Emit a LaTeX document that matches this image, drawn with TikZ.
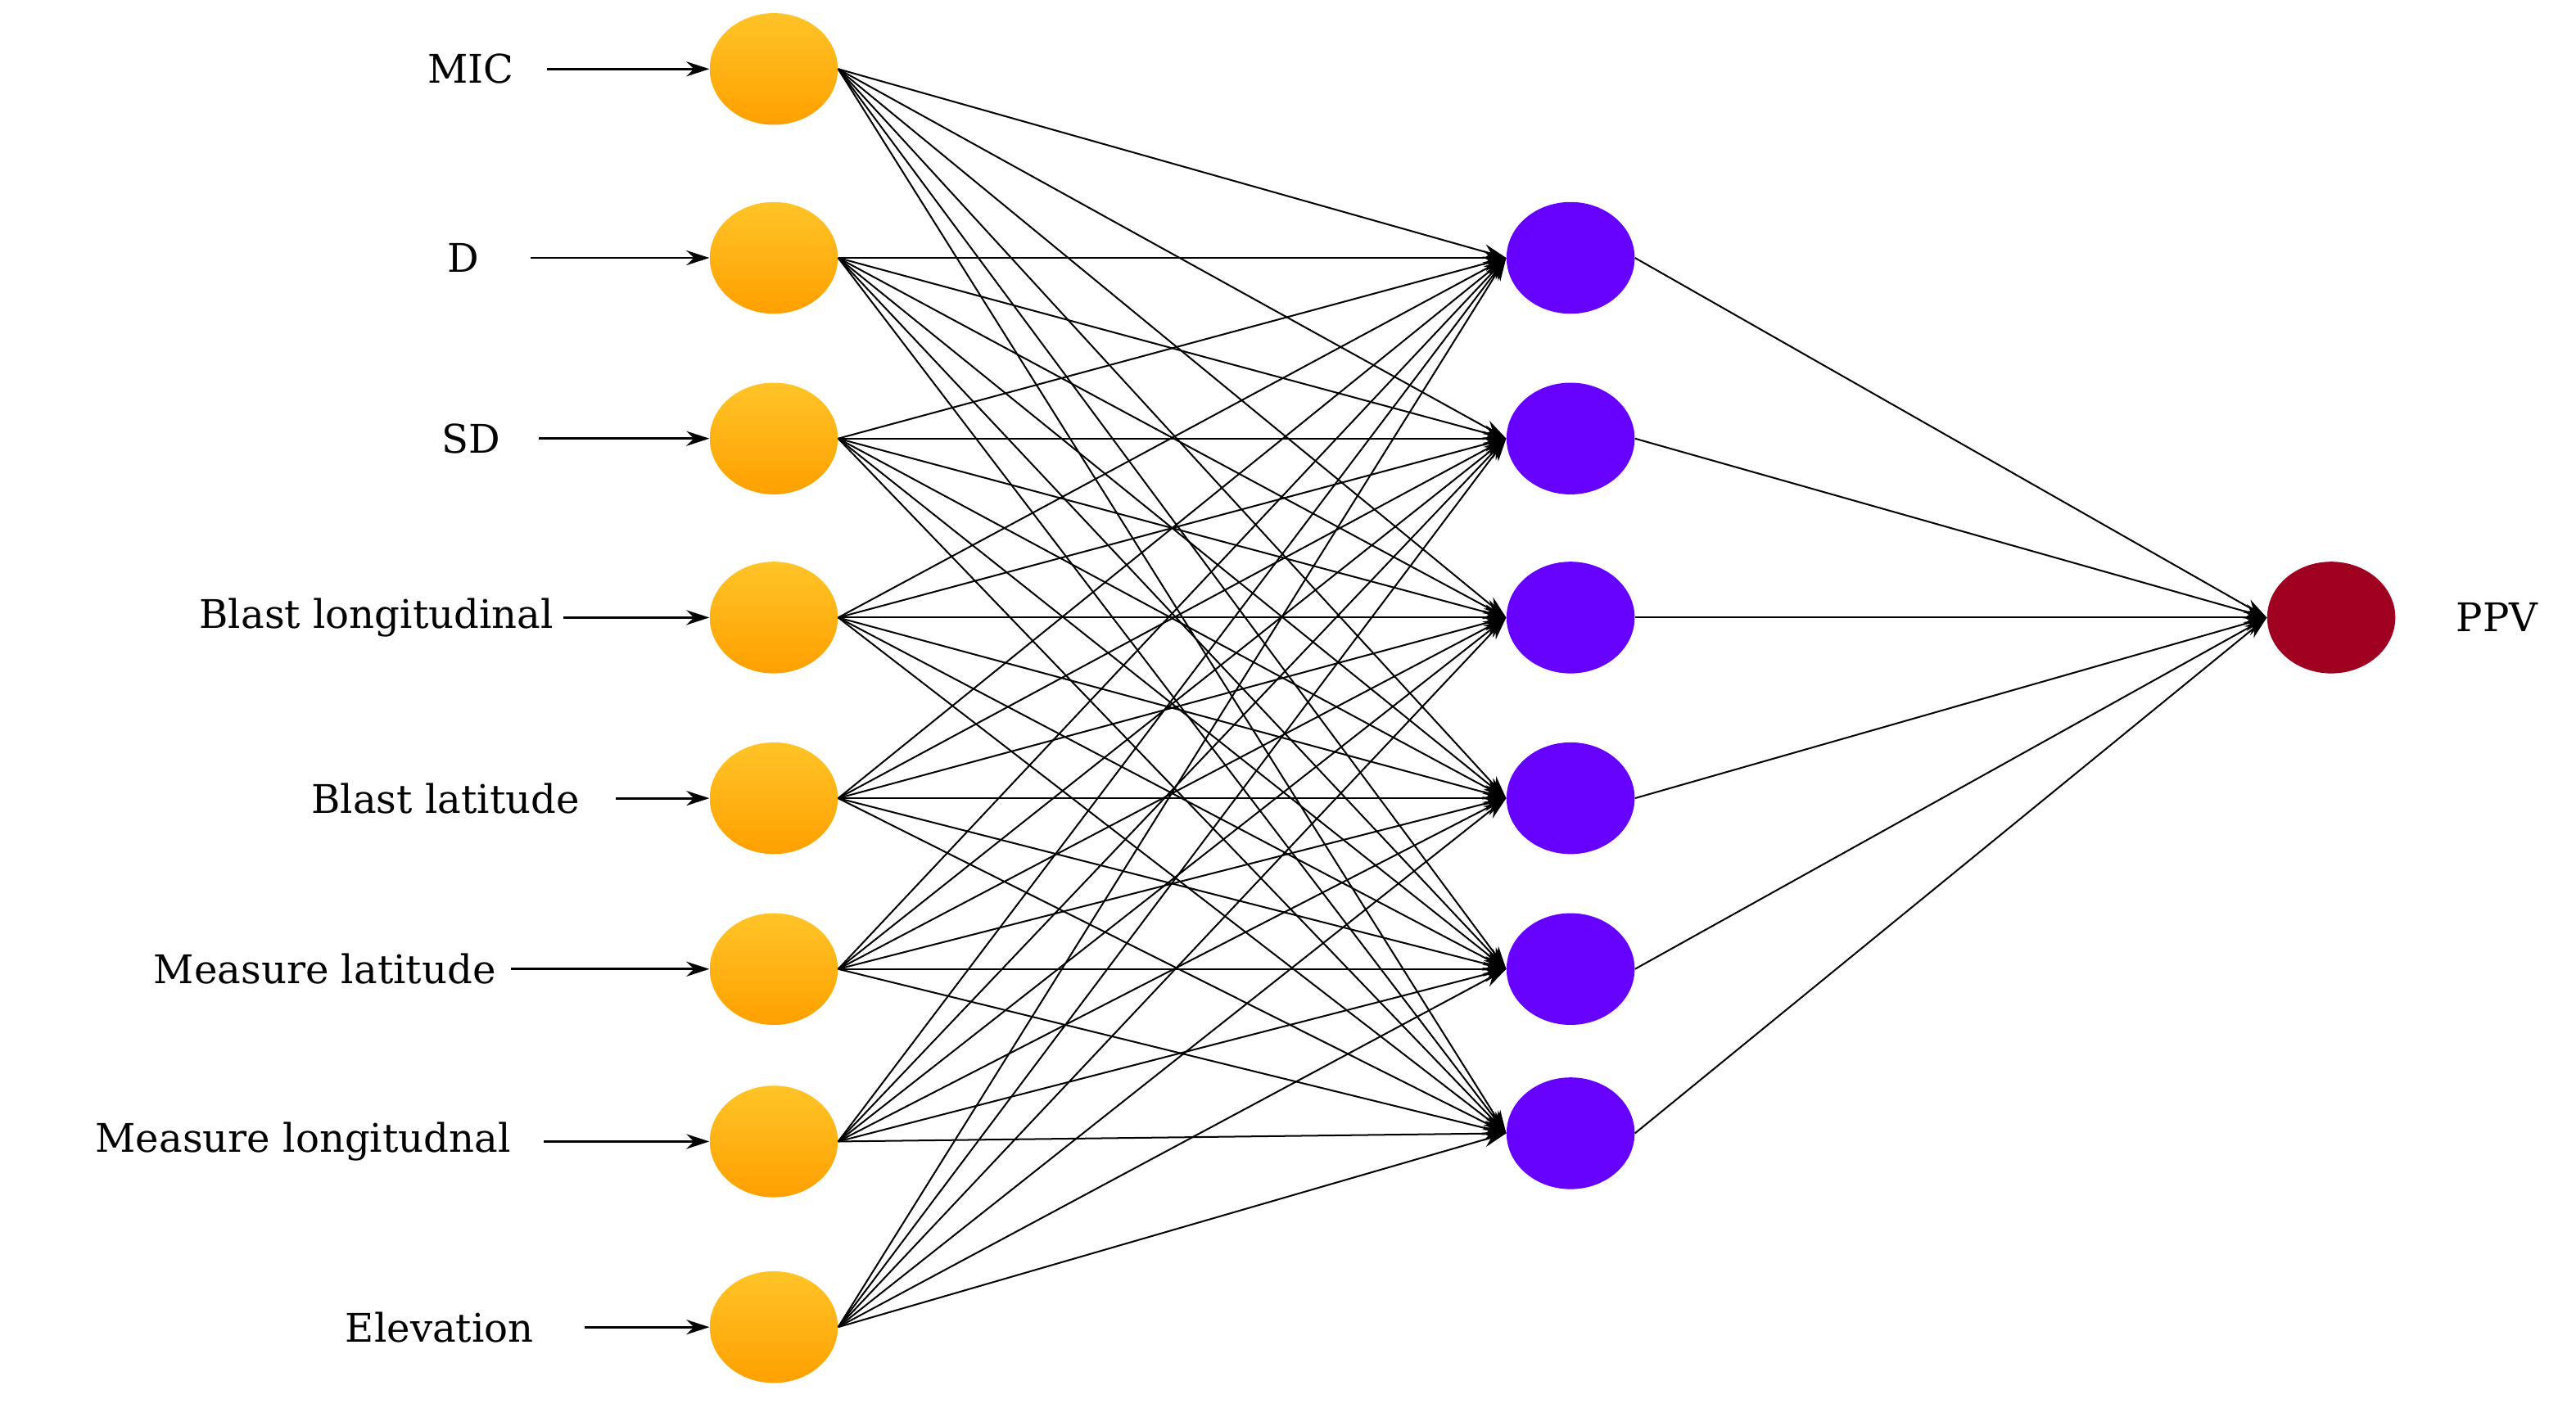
\documentclass[tikz,border=0pt]{standalone}
\usepackage{fontspec}
\setmainfont{DejaVu Serif}
\usetikzlibrary{arrows.meta,shapes.geometric}
\definecolor{hidc}{RGB}{102,0,255}
\definecolor{outc}{RGB}{160,0,32}
\definecolor{inpt}{RGB}{255,196,40}
\definecolor{inpb}{RGB}{255,160,0}
\begin{document}
\begin{tikzpicture}[x=1pt,y=-1pt,
  inp/.style={ellipse,minimum width=78pt,minimum height=68pt,inner sep=0pt,draw=none,top color=inpt,bottom color=inpb},
  hid/.style={ellipse,minimum width=78pt,minimum height=68pt,inner sep=0pt,fill=hidc},
  outn/.style={ellipse,minimum width=78pt,minimum height=68pt,inner sep=0pt,fill=outc},
  lab/.style={font=\fontsize{24}{28}\selectfont,anchor=east,inner sep=0pt},
  con/.style={-{Stealth[length=14pt,width=9pt]},line width=1pt,black}]
\useasboundingbox (0,0) rectangle (1568,857);
\foreach \n/\y/\t/\e/\a in {1/42/MIC/313/333, 2/157/D/292/323, 3/267/SD/305/328, 4/376/Blast longitudinal/337/343, 5/486/Blast latitude/353/375, 6/590/Measure latitude/302/311, 7/695/Measure longitudnal/311/331, 8/808/Elevation/325/356}{
  \node[inp] (i\n) at (471,\y) {};
  \node[lab] (l\n) at (\e,\y) {\t};
  \coordinate (s\n) at (\a,\y);
  \draw[con,line width=1.4pt] (s\n) -- (i\n.west);
}
\foreach \n/\y in {1/157,2/267,3/376,4/486,5/590,6/690}{
  \node[hid] (h\n) at (956,\y) {};
}
\node[outn] (o) at (1419,376) {};
\node[font=\fontsize{24}{28}\selectfont,anchor=west,inner sep=0pt] (ppv) at (1495,376) {PPV};
\foreach \i in {1,...,8}{\foreach \h in {1,...,6}{\draw[con] (i\i.east) -- (h\h.west);}}
\foreach \h in {1,...,6}{\draw[con] (h\h.east) -- (o.west);}
\end{tikzpicture}
\end{document}
